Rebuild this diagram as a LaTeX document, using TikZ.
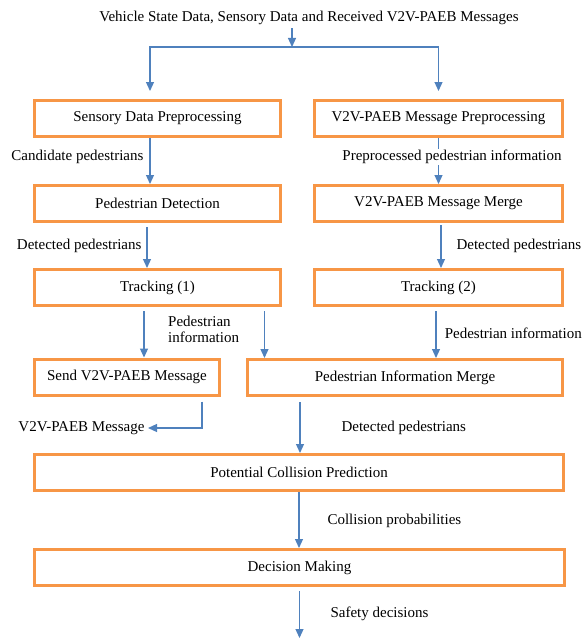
\documentclass[tikz,border=0pt]{standalone}
\usepackage{fontspec}
\setmainfont{Liberation Serif}
\usetikzlibrary{arrows.meta}
\definecolor{boxorange}{RGB}{247,150,70}
\definecolor{flowblue}{RGB}{79,129,189}

\begin{document}
\begin{tikzpicture}[x=1pt,y=-1pt,
  font=\fontsize{15}{18}\selectfont,
  stage/.style={draw=boxorange,line width=3pt,minimum height=36pt,inner sep=0pt},
  flow/.style={draw=flowblue,line width=1.2pt,-{Triangle[width=8pt,length=9pt]}}]
\useasboundingbox (0,0) rectangle (584,642);

% inputs
\node (in) at (309,18) {Vehicle State Data, Sensory Data and Received V2V-PAEB Messages};
\coordinate (split) at (292,47);

% processing stages
\node[stage,minimum width=246pt] (sdp) at (157.5,118.5) {Sensory Data Preprocessing};
\node[stage,minimum width=248pt] (mp) at (438.5,118.5) {V2V-PAEB Message Preprocessing};
\node[stage,minimum width=246pt] (pd) at (157.5,203.5) {Pedestrian Detection};
\node[stage,minimum width=248pt] (mm) at (438.5,203.5) {V2V-PAEB Message Merge};
\node[stage,minimum width=246pt] (tr1) at (157.5,287.5) {Tracking (1)};
\node[stage,minimum width=248pt] (tr2) at (438.5,287.5) {Tracking (2)};
\node[stage,minimum width=185pt] (send) at (127,377) {Send V2V-PAEB Message};
\node[stage,minimum width=315pt] (pim) at (405,377.5) {Pedestrian Information Merge};
\node[stage,minimum width=529pt] (pcp) at (299,472.5) {Potential Collision Prediction};
\node[stage,minimum width=530pt] (dm) at (299.5,567.5) {Decision Making};

% split of the inputs
\draw[flow] (split |- in.south) -- (split);
\draw[flow,shorten >=8pt] (split) -| ([xshift=-7.5pt]sdp.north);
\draw[flow,shorten >=8pt] (split) -| (mp.north);

% left branch
\draw[flow] ([xshift=-7.5pt]sdp.south) -- ([xshift=-7.5pt]pd.north);
\node[anchor=east] (cand) at (147,157) {Candidate pedestrians};
\draw[flow,shorten <=4pt] ([xshift=-10.5pt]pd.south) -- ([xshift=-10.5pt]tr1.north);
\node[anchor=east] (det1) at (145,246) {Detected pedestrians};
\coordinate (t1) at ([xshift=-13.5pt]tr1.south);
\draw[flow,shorten <=4pt] (t1) -- (t1 |- send.north);
\coordinate (t1b) at ([xshift=18.5pt]pim.north west);
\draw[flow,shorten <=4pt] (t1b |- tr1.south) -- (t1b);
\node[anchor=north west,align=left,inner sep=0pt,font=\fontsize{15}{15.5}\selectfont] (pinf1) at (168,316) {Pedestrian\\information};

% right branch
\draw[flow] (mp.south) -- (mm.north);
\node[fill=white,inner sep=1pt] (ppi) at (452,157) {Preprocessed pedestrian information};
\draw[flow,shorten <=2pt] ([xshift=2.5pt]mm.south) -- ([xshift=2.5pt]tr2.north);
\node[anchor=west] (det2) at (453,246) {Detected pedestrians};
\coordinate (t2) at ([xshift=-2.5pt]tr2.south);
\draw[flow,shorten <=4pt] (t2) -- (t2 |- pim.north);
\node[anchor=east,inner sep=1pt] (pinf2) at (583,333) {Pedestrian information};

% outgoing message
\coordinate (s1) at ([xshift=75pt]send.south);
\node[anchor=east] (msg) at (148,428) {V2V-PAEB Message};
\draw[flow,shorten <=5pt] (s1) |- (msg.east);

% merge, prediction and decision
\coordinate (p1) at ([xshift=-105pt]pim.south);
\draw[flow,shorten <=5pt] (p1) -- (p1 |- pcp.north);
\node[anchor=west] (det3) at (338,428) {Detected pedestrians};
\draw[flow] (pcp.south) -- (pcp.south |- dm.north);
\node[anchor=west] (cprob) at (324,521) {Collision probabilities};
\coordinate (out) at (300,638);
\draw[flow,shorten <=4pt] (dm.south) -- (dm.south |- out);
\node[anchor=west] (safe) at (327,614) {Safety decisions};
\end{tikzpicture}
\end{document}
